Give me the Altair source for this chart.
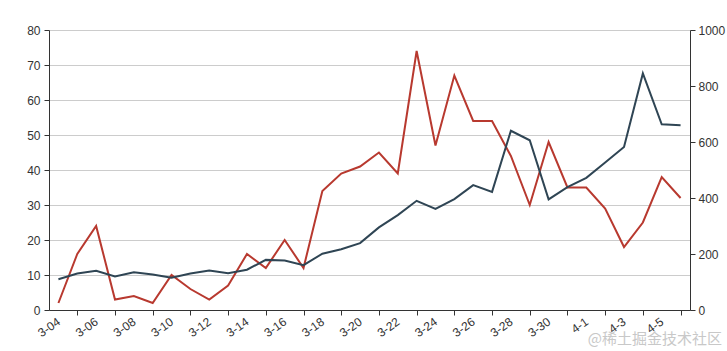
import altair as alt
import pandas as pd

categories = ["3-04", "3-05", "3-06", "3-07", "3-08", "3-09", "3-10", "3-11", "3-12", "3-13",
              "3-14", "3-15", "3-16", "3-17", "3-18", "3-19", "3-20", "3-21", "3-22", "3-23",
              "3-24", "3-25", "3-26", "3-27", "3-28", "3-29", "3-30", "3-31", "4-1", "4-2",
              "4-3", "4-4", "4-5", "4-6"]
red_values = [2, 16, 24, 3, 4, 2, 10, 6, 3, 7, 16, 12, 20, 12, 34, 39, 41, 45, 39, 74,
              47, 67, 54, 54, 44, 30, 48, 35, 35, 29, 18, 25, 38, 32]
dark_values = [110, 130, 140, 120, 135, 127, 115, 130, 141, 131, 144, 179, 177, 160, 201, 217,
               239, 295, 339, 390, 361, 396, 446, 422, 640, 606, 395, 439, 472, 527, 582, 845,
               663, 660]
left_ticks = [0, 10, 20, 30, 40, 50, 60, 70, 80]
right_ticks = [0, 200, 400, 600, 800, 1000]
watermark = "@稀土掘金技术社区"

df = pd.DataFrame({"date": categories, "red": red_values, "dark": dark_values})

even_cats = categories[0::2]
odd_cats = categories[1::2]
odd_list = "[" + ",".join("'%s'" % c for c in odd_cats) + "]"
even_list = "[" + ",".join("'%s'" % c for c in even_cats) + "]"

FONT = "Liberation Sans"
AX = "#333333"

x_enc = alt.X(
    "date:N",
    sort=categories,
    scale=alt.Scale(type="point", padding=0.5),
    axis=alt.Axis(
        title=None,
        values=categories,
        labelExpr="indexof(" + even_list + ", datum.value) >= 0 ? datum.label : ''",
        labelAngle=-35,
        labelAlign="right",
        labelBaseline="middle",
        labelPadding=5,
        labelOverlap=False,
        labelColor=AX,
        labelFont=FONT,
        labelFontSize=12,
        domainColor=AX,
        tickColor=AX,
        tickSize=5,
        tickOpacity={"condition": {"test": "indexof(" + odd_list + ", datum.value) >= 0", "value": 1}, "value": 0},
        grid=False,
    ),
)

base = alt.Chart(df)

red_line = base.mark_line(color="#b8392f", strokeWidth=2).encode(
    x=x_enc,
    y=alt.Y(
        "red:Q",
        scale=alt.Scale(domain=[0, 80], nice=False, zero=True),
        axis=alt.Axis(
            title=None,
            orient="left",
            values=left_ticks,
            grid=True,
            gridColor="#cccccc",
            gridWidth=1,
            domainColor=AX,
            tickColor=AX,
            tickSize=5,
            labelColor=AX,
            labelFont=FONT,
            labelFontSize=12,
            labelPadding=4,
        ),
    ),
)

dark_line = base.mark_line(color="#2f4554", strokeWidth=2).encode(
    x=x_enc,
    y=alt.Y(
        "dark:Q",
        scale=alt.Scale(domain=[0, 1000], nice=False, zero=True),
        axis=alt.Axis(
            title=None,
            orient="right",
            values=right_ticks,
            format="d",
            grid=False,
            domainColor=AX,
            tickColor=AX,
            tickSize=5,
            labelColor=AX,
            labelFont=FONT,
            labelFontSize=12,
            labelPadding=3,
        ),
    ),
)

wm = alt.Chart(pd.DataFrame({"t": [watermark]})).mark_text(
    align="right", baseline="alphabetic", font="Noto Sans CJK SC", fontSize=15, color="#c8c8c8"
).encode(text="t:N", x=alt.value(673), y=alt.value(314))

chart = (
    alt.layer(red_line, dark_line, wm)
    .resolve_scale(y="independent")
    .properties(
        width=641,
        height=280,
        autosize=alt.AutoSizeParams(type="none"),
        padding={"left": 49, "top": 30, "right": 37, "bottom": 41},
        background="white",
    )
    .configure_view(stroke=None)
)

chart.save("out.html", embed_options={"renderer": "svg", "actions": False})
